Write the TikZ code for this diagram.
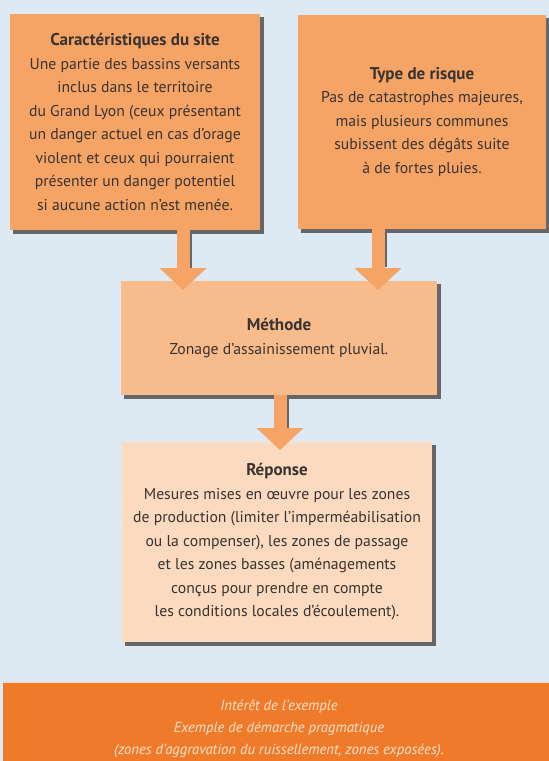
\documentclass[tikz,border=0pt]{standalone}
\usepackage{fontspec}
\setmainfont{PT Sans}
\usetikzlibrary{arrows.meta}
\definecolor{bg}{HTML}{DDEAF4}
\definecolor{orA}{HTML}{F5A466}
\definecolor{orB}{HTML}{F8BB8B}
\definecolor{orC}{HTML}{FBDABF}
\definecolor{bandc}{HTML}{EF7A2A}
\definecolor{bandtxt}{HTML}{FDE3CF}
\definecolor{txt}{HTML}{383330}
\definecolor{shadec}{HTML}{666668}
\pgfdeclarelayer{layerA}
\pgfdeclarelayer{layerB}
\pgfsetlayers{layerA,layerB,main}
\begin{document}
\begin{tikzpicture}[x=1pt,y=-1pt,
  box/.style={draw=none, inner sep=0pt, align=center, text=txt,
    font=\fontsize{15.7}{23.5}\selectfont},
  boxshadow/.style={fill=shadec},
  arr/.style={draw=orA, line width=13pt, -{Triangle[width=46pt,length=22pt]}},
  arrshadow/.style={draw=shadec, line width=13pt, transform canvas={xshift=2.5pt}},
  bandtext/.style={align=center, text=bandtxt, font=\itshape\fontsize{14.7}{22}\selectfont}]
\useasboundingbox (0,0) rectangle (549,761);
\begin{pgfonlayer}{layerA}
\fill[bg] (0,0) rectangle (549,761);
\end{pgfonlayer}

\node[box, fill=orA, minimum width=250pt, minimum height=216pt] (b1) at (135,122)
  {{\bfseries\fontsize{17}{23.5}\selectfont Caractéristiques du site}\\
   Une partie des bassins versants\\
   inclus dans le territoire\\
   du Grand Lyon (ceux présentant\\
   un danger actuel en cas d'orage\\
   violent et ceux qui pourraient\\
   présenter un danger potentiel\\
   si aucune action n'est menée.};

\node[box, fill=orA, minimum width=248pt, minimum height=214pt] (b2) at (422,122)
  {{\bfseries\fontsize{17}{23.5}\selectfont Type de risque}\\
   Pas de catastrophes majeures,\\
   mais plusieurs communes\\
   subissent des dégâts suite\\
   à de fortes pluies.};

\node[box, fill=orB, minimum width=316pt, minimum height=114pt] (b3) at (279,338)
  {{\bfseries\fontsize{17}{23.5}\selectfont Méthode}\\
   Zonage d'assainissement pluvial.};

\node[box, fill=orC, minimum width=310pt, minimum height=200pt] (b4) at (277,542)
  {{\bfseries\fontsize{17}{23.5}\selectfont Réponse}\\
   Mesures mises en œuvre pour les zones\\
   de production (limiter l'imperméabilisation\\
   ou la compenser), les zones de passage\\
   et les zones basses (aménagements\\
   conçus pour prendre en compte\\
   les conditions locales d'écoulement).};

\begin{pgfonlayer}{layerB}
\foreach \b in {b1,b2,b3,b4}
  \fill[boxshadow] ([shift={(3.5pt,-3.5pt)}]\b.south west) rectangle ([shift={(3.5pt,-3.5pt)}]\b.north east);
\end{pgfonlayer}

\coordinate (a1) at (183,290);
\coordinate (a2) at (378,290);
\coordinate (a3) at (280,450);

\draw[arrshadow] (b1.south -| a1) -- ++(0,38);
\draw[arrshadow] (b2.south -| a2) -- ++(0,38);
\draw[arrshadow] (b3.south -| a3) -- ++(0,33);
\draw[arr] (b1.south -| a1) -- (a1);
\draw[arr] (b2.south -| a2) -- (a2);
\draw[arr] (b3.south -| a3) -- (a3);

\fill[bandc] (3,682) rectangle (549,761);
\draw[orC, line width=1.5pt] (3,682.5) -- (549,682.5);
\node[bandtext] (ie) at (279,729)
  {Intérêt de l'exemple\\
   Exemple de démarche pragmatique\\
   (zones d'aggravation du ruissellement, zones exposées).};
\end{tikzpicture}
\end{document}
